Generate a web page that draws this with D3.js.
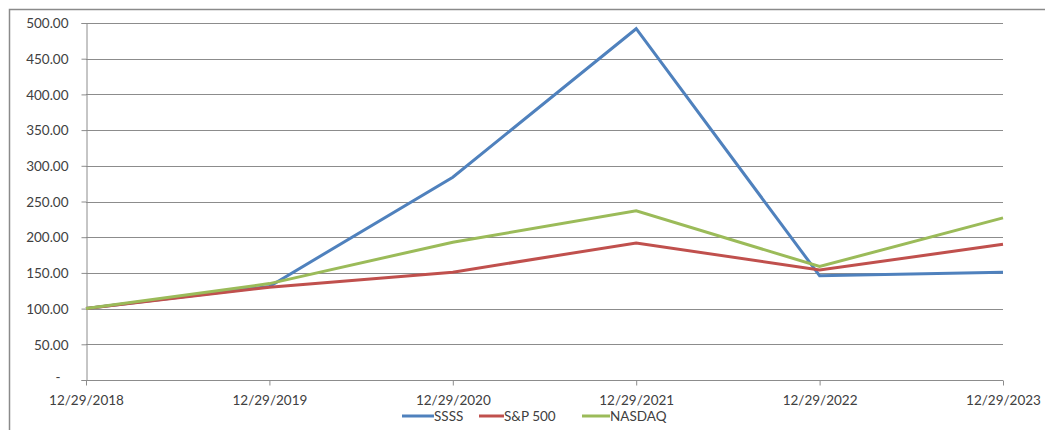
<!DOCTYPE html>
<html>
<head>
<meta charset="utf-8">
<script src="https://cdn.jsdelivr.net/npm/d3@7"></script>
<style>
  body { margin: 0; background: #fff; }
  text { font-family: Lato, "Open Sans", sans-serif; fill: #404040; }
</style>
</head>
<body>
<div class="canvas"></div>
<script>
const dates = ['12/29/2018', '12/29/2019', '12/29/2020', '12/29/2021', '12/29/2022', '12/29/2023']
const ssss = [100, 131, 284, 492, 146, 151]
const sp500 = [100, 130, 151, 192, 154, 190]
const nasdaq = [100, 135, 193, 237, 159, 227]
const yTicks = [0, 50, 100, 150, 200, 250, 300, 350, 400, 450, 500]

const seriesList = [
  { name: 'SSSS', values: ssss, color: '#4F81BD' },
  { name: 'S&P 500', values: sp500, color: '#C0504D' },
  { name: 'NASDAQ', values: nasdaq, color: '#9BBB59' }
]

const width = 1045
const height = 430
const margin = { top: 23, right: 42, bottom: 50, left: 86 }
const graphWidth = width - margin.left - margin.right
const graphHeight = height - margin.top - margin.bottom

const svg = d3
  .select('.canvas')
  .append('svg')
  .attr('width', width)
  .attr('height', height)

// outer chart border
svg
  .append('rect')
  .attr('x', 9.5)
  .attr('y', 9.5)
  .attr('width', width + 20)
  .attr('height', height + 20)
  .attr('fill', 'none')
  .attr('stroke', '#8a8a8a')
  .attr('stroke-width', 1.5)

const graph = svg
  .append('g')
  .attr('transform', `translate(${margin.left},${margin.top})`)

// Scales
const x = d3.scalePoint().domain(dates).range([0, graphWidth])
const y = d3.scaleLinear().domain([0, 500]).range([graphHeight, 0])

// Gridlines
graph
  .append('g')
  .selectAll('line')
  .data(yTicks.filter(d => d > 0))
  .enter()
  .append('line')
  .attr('x1', 0)
  .attr('x2', graphWidth)
  .attr('y1', d => Math.round(y(d)) + 0.5)
  .attr('y2', d => Math.round(y(d)) + 0.5)
  .attr('stroke', '#8c8c8c')
  .attr('stroke-width', 1)

// Axes
const yAxis = d3
  .axisLeft(y)
  .tickValues(yTicks)
  .tickSize(5)
  .tickPadding(13)
  .tickFormat(d => (d === 0 ? '-' : d3.format('.2f')(d)))
const xAxis = d3
  .axisBottom(x)
  .tickSize(5)
  .tickPadding(10)

const yAxisGroup = graph.append('g').attr('transform', 'translate(0.5,0)').call(yAxis)
const xAxisGroup = graph
  .append('g')
  .attr('transform', `translate(0,${Math.round(graphHeight) + 0.5})`)
  .call(xAxis)

;[yAxisGroup, xAxisGroup].forEach(g => {
  g.select('.domain').attr('stroke', '#8c8c8c')
  g.selectAll('.tick line').attr('stroke', '#8c8c8c')
  g.selectAll('.tick text').style('font-size', '13.5px').attr('fill', '#404040')
})
yAxisGroup.selectAll('.tick text').attr('dy', '0.35em')
yAxisGroup
  .selectAll('.tick text')
  .filter(d => d === 0)
  .attr('x', -26)
  .attr('dy', '0.1em')
xAxisGroup.select('.domain').attr('d', `M0,0H${graphWidth}`)

// Lines
const line = d3
  .line()
  .x((d, i) => x(dates[i]))
  .y(d => y(d))

graph
  .selectAll('path.series')
  .data(seriesList)
  .enter()
  .append('path')
  .attr('class', 'series')
  .attr('fill', 'none')
  .attr('stroke', d => d.color)
  .attr('stroke-width', 3)
  .attr('stroke-linejoin', 'miter')
  .attr('d', d => line(d.values))

// Legend
const legendItems = [
  { x: 402, textX: 434 },
  { x: 479, textX: 504 },
  { x: 582, textX: 610 }
]
const legend = svg.append('g').attr('transform', 'translate(0,416)')
seriesList.forEach((s, i) => {
  const item = legendItems[i]
  legend
    .append('line')
    .attr('x1', item.x)
    .attr('x2', item.textX)
    .attr('y1', 0)
    .attr('y2', 0)
    .attr('stroke', s.color)
    .attr('stroke-width', 3)
  legend
    .append('text')
    .attr('x', item.textX)
    .attr('y', 0)
    .attr('dy', '0.35em')
    .style('font-size', '13.5px')
    .text(s.name)
})
</script>
</body>
</html>
